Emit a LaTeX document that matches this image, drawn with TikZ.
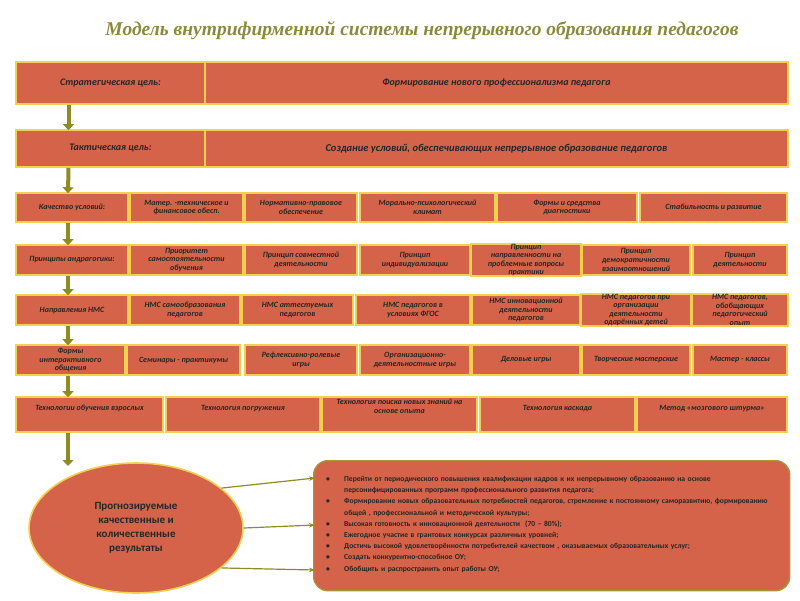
\documentclass[tikz,border=0pt]{standalone}
\usepackage{fontspec}
\setmainfont{Carlito}
\newfontfamily\titlefont{Liberation Serif}
\usetikzlibrary{arrows.meta,shapes.geometric}
\definecolor{boxfill}{HTML}{D4634A}
\definecolor{boxline}{HTML}{F5D050}
\definecolor{olive}{HTML}{8C8C22}
\definecolor{titlec}{HTML}{8A8A3A}
\tikzset{
 cell/.style={draw=boxline,line width=1.6pt,fill=boxfill,inner sep=1pt,align=center,font=\fontsize{8}{8.6}\selectfont\bfseries\itshape,text=black!85},
 bigcell/.style={cell,font=\fontsize{10}{11}\selectfont\bfseries\itshape},
 down/.style={draw=olive,line width=4pt,-{Triangle[length=6pt,width=11pt]}},
 side/.style={draw=olive,line width=1.2pt,-{Stealth[length=6pt]}}
}
\newcommand{\bitem}[1]{\noindent\hangindent=18pt\hangafter=1\makebox[18pt][l]{\textbullet}#1\par}
\begin{document}
\begin{tikzpicture}[x=1pt,y=-1pt]
\useasboundingbox (0,0) rectangle (800,600);
\node[font=\titlefont\fontsize{19.5}{21}\selectfont\bfseries\itshape,text=titlec] (title) at (422,31) {Модель внутрифирменной системы непрерывного образования педагогов};
% row 1
\node[bigcell,minimum width=189pt,minimum height=42pt] (r1a) at (110.5,83) {Стратегическая цель:};
\node[bigcell,minimum width=583pt,minimum height=42pt] (r1b) at (496.5,83) {Формирование нового профессионализма педагога};
% row 2
\node[bigcell,minimum width=189pt,minimum height=37pt] (r2a) at (110.5,148.5) {Тактическая цель:};
\node[bigcell,minimum width=583pt,minimum height=37pt,font=\fontsize{10.5}{12}\selectfont\bfseries\itshape] (r2b) at (496.5,148.5) {Создание условий, обеспечивающих непрерывное образование педагогов};
% row 3
\node[cell,minimum width=112pt,minimum height=29pt] (r3a) at (72,207.5) {Качество условий:};
\node[cell,minimum width=113pt,minimum height=29pt] (r3b) at (186.5,207.5) {Матер. -техническое и\\финансовое обесп.};
\node[cell,minimum width=112pt,minimum height=29pt] (r3c) at (301,207.5) {Нормативно-правовое\\обеспечение};
\node[cell,minimum width=135pt,minimum height=29pt] (r3d) at (427.5,207.5) {Морально-психологический\\климат};
\node[cell,minimum width=140pt,minimum height=29pt] (r3e) at (567,207.5) {Формы и средства\\диагностики};
\node[cell,minimum width=147pt,minimum height=29pt] (r3f) at (713.5,207.5) {Стабильность и развитие};
% row 4
\node[cell,minimum width=112pt,minimum height=30pt] (r4a) at (72,260) {Принципы андрагогики:};
\node[cell,minimum width=113pt,minimum height=30pt] (r4b) at (186.5,260) {Приоритет\\самостоятельности\\обучения};
\node[cell,minimum width=112pt,minimum height=30pt] (r4c) at (301,260) {Принцип совместной\\деятельности};
\node[cell,minimum width=110pt,minimum height=30pt] (r4d) at (415,260) {Принцип\\индивидуализации};
\node[cell,minimum width=108pt,minimum height=30pt,draw=none] (r4e) at (526,260) {};
\draw[boxline,line width=1.6pt,fill=boxfill] (r4e.south west) rectangle (r4e.north east);
\node[cell,draw=none,fill=none] (r4et) at (526,260) {Принцип\\направленности на\\проблемные вопросы\\практики};
\node[cell,minimum width=108pt,minimum height=30pt] (r4f) at (636,260) {Принцип\\демократичности\\взаимоотношений};
\node[cell,minimum width=94pt,minimum height=30pt] (r4g) at (740,260) {Принцип\\деятельности};
% row 5
\node[cell,minimum width=112pt,minimum height=30pt] (r5a) at (72,310) {Направления НМС};
\node[cell,minimum width=110pt,minimum height=30pt] (r5b) at (185,310) {НМС самообразования\\педагогов};
\node[cell,minimum width=111pt,minimum height=30pt] (r5c) at (297.5,310) {НМС аттестуемых\\педагогов};
\node[cell,minimum width=114pt,minimum height=30pt] (r5d) at (413,310) {НМС педагогов в\\условиях ФГОС};
\node[cell,minimum width=108pt,minimum height=30pt] (r5e) at (526,310) {НМС инновационной\\деятельности\\педагогов};
\node[cell,minimum width=108pt,minimum height=30pt,draw=none,fill=none] (r5f) at (636,310) {};
\draw[boxline,line width=1.6pt,fill=boxfill] (r5f.south west) rectangle (r5f.north east);
\node[cell,draw=none,fill=none] (r5ft) at (636,310) {НМС педагогов при\\организации\\деятельности\\одарённых детей};
\node[cell,minimum width=94pt,minimum height=30pt,draw=none,fill=none] (r5g) at (740,310) {};
\draw[boxline,line width=1.6pt,fill=boxfill] (r5g.south west) rectangle (r5g.north east);
\node[cell,draw=none,fill=none] (r5gt) at (740,310) {НМС педагогов,\\обобщающих\\педагогический\\опыт};
% row 6
\node[cell,minimum width=109pt,minimum height=30pt] (r6a) at (70.5,360) {Формы\\интерактивного\\общения};
\node[cell,minimum width=113pt,minimum height=30pt] (r6b) at (183.5,360) {Семинары - практикумы};
\node[cell,minimum width=112pt,minimum height=30pt] (r6c) at (301,360) {Рефлексивно-ролевые\\игры};
\node[cell,minimum width=110pt,minimum height=30pt] (r6d) at (415,360) {Организационно-\\деятельностные игры};
\node[cell,minimum width=108pt,minimum height=30pt] (r6e) at (526,360) {Деловые игры};
\node[cell,minimum width=108pt,minimum height=30pt] (r6f) at (636,360) {Творческие мастерские};
\node[cell,minimum width=94pt,minimum height=30pt] (r6g) at (740,360) {Мастер - классы};
% row 7
\node[cell,minimum width=147pt,minimum height=35pt] (r7a) at (89.5,414.5) {Технологии обучения взрослых\\[4pt]};
\node[cell,minimum width=154pt,minimum height=35pt] (r7b) at (243,414.5) {Технология погружения\\[4pt]};
\node[cell,minimum width=155pt,minimum height=35pt] (r7c) at (399.5,414.5) {Технология поиска новых знаний на\\основе опыта\\[8pt]};
\node[cell,minimum width=155pt,minimum height=35pt] (r7d) at (557.5,414.5) {Технология каскада\\[4pt]};
\node[cell,minimum width=150pt,minimum height=35pt] (r7e) at (712,414.5) {Метод «мозгового штурма»\\[4pt]};
% ellipse
\node[ellipse,draw=boxline,line width=1.6pt,fill=boxfill,minimum width=214pt,minimum height=130pt,align=center,font=\fontsize{11}{14}\selectfont\bfseries,text=black!85] (res) at (136,528) {Прогнозируемые\\качественные и\\количественные\\результаты};
% result box
\node[draw=boxline!70!black,line width=1.4pt,fill=boxfill,rounded corners=14pt,minimum width=476pt,minimum height=130pt,anchor=north west] (list) at (313,460) {};
\node[anchor=north west,text width=452pt,font=\fontsize{7.6}{11.2}\selectfont\bfseries,text=black!85,inner sep=0pt] (listtxt) at (326,476) {%
\bitem{Перейти от периодического повышения квалификации кадров к их непрерывному образованию на основе персонифицированных программ профессионального развития педагога;}
\bitem{Формирование новых образовательных потребностей педагогов, стремление к постоянному саморазвитию, формированию общей , профессиональной и методической культуры;}
\bitem{Высокая готовность к инновационной деятельности \ (70 – 80\%);}
\bitem{Ежегодное участие в грантовых конкурсах различных уровней;}
\bitem{Достичь высокой удовлетворённости потребителей качеством , оказываемых образовательных услуг;}
\bitem{Создать конкурентно-способное ОУ;}
\bitem{Обобщить и распространить опыт работы ОУ;}};
% arrows down
\draw[down] ([xshift=-42pt]r1a.south) -- ([xshift=-42pt,yshift=-1pt]r2a.north);
\draw[down] ([xshift=-42pt]r2a.south) -- ([xshift=-4pt,yshift=-1pt]r3a.north);
\draw[down] ([xshift=-4pt]r3a.south) -- ([xshift=-4pt,yshift=-1pt]r4a.north);
\draw[down] ([xshift=-4pt]r4a.south) -- ([xshift=-4pt,yshift=-1pt]r5a.north);
\draw[down] ([xshift=-4pt]r5a.south) -- ([xshift=-2.5pt,yshift=-1pt]r6a.north);
\draw[down] ([xshift=-2.5pt]r6a.south) -- ([xshift=-21.5pt,yshift=-1pt]r7a.north);
\coordinate (dend) at (68,466);
\draw[down] ([xshift=-21.5pt]r7a.south) -- (dend);
% side arrows
\coordinate (s1) at (315,478);\coordinate (s2) at (315,525);\coordinate (s3) at (315,570);
\draw[side] (res.25) -- (s1);
\draw[side] (res.east) -- (s2);
\draw[side] (res.-25) -- (s3);
\end{tikzpicture}
\end{document}
